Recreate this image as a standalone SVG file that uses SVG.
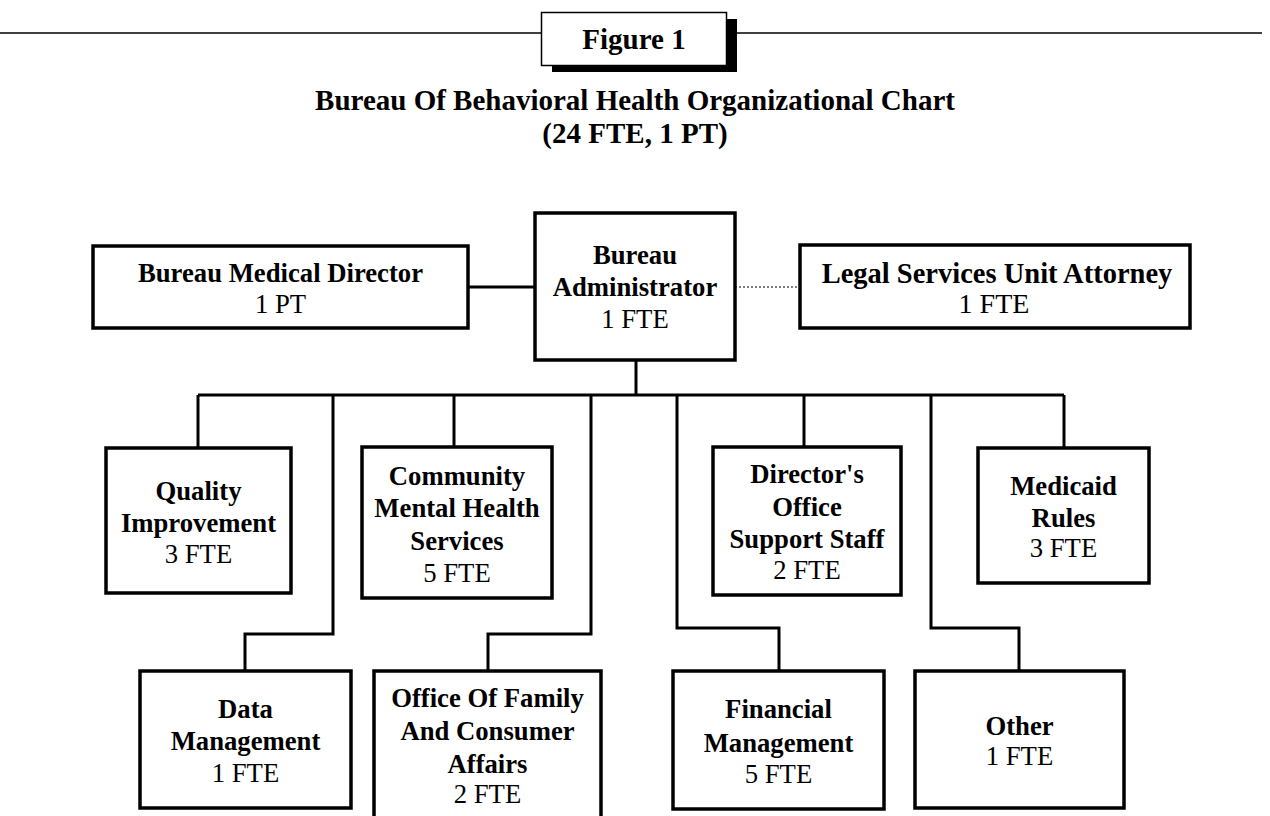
<svg xmlns="http://www.w3.org/2000/svg" width="1270" height="816" viewBox="0 0 1270 816">
<style>
  text { font-family: "Liberation Serif", "Times New Roman", serif; fill: #000; text-anchor: middle; }
  .t { font-size: 29px; font-weight: bold; }
  .b { font-size: 26.7px; font-weight: bold; }
  .n { font-size: 26.7px; font-weight: normal; }
  .bl { font-size: 28.5px; font-weight: bold; }
  .nl { font-size: 28px; font-weight: normal; }
  .box { fill: #fff; stroke: #000; stroke-width: 3.5; }
  .conn { fill: none; stroke: #000; stroke-width: 3; }
  .dot { fill: none; stroke: #000; stroke-width: 1; stroke-dasharray: 2 2; }
  .rule { stroke: #000; stroke-width: 1.5; }
</style>
<rect width="1270" height="816" fill="#fff"/>
<g id="header">
  <line class="rule" x1="0" y1="33" x2="541" y2="33"/>
  <line class="rule" x1="737" y1="33" x2="1262" y2="33"/>
  <rect x="552" y="19" width="185" height="53" fill="#000"/>
  <rect x="541.5" y="12.5" width="185" height="53" fill="#fff" stroke="#000" stroke-width="1.5"/>
  <text class="t" x="634" y="49">Figure 1</text>
  <text class="t" x="635" y="110">Bureau Of Behavioral Health Organizational Chart</text>
  <text class="t" x="635" y="143">(24 FTE, 1 PT)</text>
</g>
<g id="connectors">
  <line class="conn" x1="468" y1="287" x2="535" y2="287"/>
  <line class="dot" x1="735" y1="287" x2="800" y2="287"/>
  <line class="conn" x1="636" y1="360" x2="636" y2="395"/>
  <line class="conn" x1="198" y1="395" x2="1064" y2="395"/>
  <line class="conn" x1="198" y1="395" x2="198" y2="448"/>
  <line class="conn" x1="454" y1="395" x2="454" y2="447"/>
  <line class="conn" x1="804" y1="395" x2="804" y2="447"/>
  <line class="conn" x1="1064" y1="395" x2="1064" y2="448"/>
  <polyline class="conn" points="333,395 333,634 245,634 245,671"/>
  <polyline class="conn" points="591,395 591,634 488,634 488,671"/>
  <polyline class="conn" points="677,395 677,628 779,628 779,671"/>
  <polyline class="conn" points="931,395 931,628 1019,628 1019,671"/>
</g>
<g id="medical-director">
  <rect class="box" x="93" y="246" width="375" height="82"/>
  <text class="b" x="280.5" y="282">Bureau Medical Director</text>
  <text class="n" x="280.5" y="313">1 PT</text>
</g>
<g id="administrator">
  <rect class="box" x="535" y="213" width="200" height="147"/>
  <text class="b" x="635" y="264">Bureau</text>
  <text class="b" x="635" y="296">Administrator</text>
  <text class="n" x="635" y="328">1 FTE</text>
</g>
<g id="legal">
  <rect class="box" x="800" y="245" width="390" height="83"/>
  <text class="bl" x="997" y="283">Legal Services Unit Attorney</text>
  <text class="nl" x="994" y="313">1 FTE</text>
</g>
<g id="quality">
  <rect class="box" x="106" y="448" width="185" height="145"/>
  <text class="b" x="198.5" y="500">Quality</text>
  <text class="b" x="198.5" y="532">Improvement</text>
  <text class="n" x="198.5" y="563">3 FTE</text>
</g>
<g id="community">
  <rect class="box" x="362" y="447" width="190" height="151"/>
  <text class="b" x="457" y="485">Community</text>
  <text class="b" x="457" y="517">Mental Health</text>
  <text class="b" x="457" y="550">Services</text>
  <text class="n" x="457" y="582">5 FTE</text>
</g>
<g id="directors-office">
  <rect class="box" x="713" y="447" width="188" height="148"/>
  <text class="b" x="807" y="483">Director's</text>
  <text class="b" x="807" y="516">Office</text>
  <text class="b" x="807" y="548">Support Staff</text>
  <text class="n" x="807" y="579">2 FTE</text>
</g>
<g id="medicaid">
  <rect class="box" x="978" y="448" width="171" height="135"/>
  <text class="b" x="1063.5" y="495">Medicaid</text>
  <text class="b" x="1063.5" y="527">Rules</text>
  <text class="n" x="1063.5" y="557">3 FTE</text>
</g>
<g id="data-management">
  <rect class="box" x="140" y="671" width="211" height="137"/>
  <text class="b" x="245.5" y="718">Data</text>
  <text class="b" x="245.5" y="750">Management</text>
  <text class="n" x="245.5" y="782">1 FTE</text>
</g>
<g id="family-consumer">
  <rect class="box" x="374" y="671" width="227" height="160"/>
  <text class="b" x="487.5" y="707">Office Of Family</text>
  <text class="b" x="487.5" y="740">And Consumer</text>
  <text class="b" x="487.5" y="773">Affairs</text>
  <text class="n" x="487.5" y="803">2 FTE</text>
</g>
<g id="financial">
  <rect class="box" x="673" y="671" width="211" height="138"/>
  <text class="b" x="778.5" y="718">Financial</text>
  <text class="b" x="778.5" y="752">Management</text>
  <text class="n" x="778.5" y="783">5 FTE</text>
</g>
<g id="other">
  <rect class="box" x="915" y="671" width="209" height="137"/>
  <text class="b" x="1019.5" y="735">Other</text>
  <text class="n" x="1019.5" y="765">1 FTE</text>
</g>
</svg>
